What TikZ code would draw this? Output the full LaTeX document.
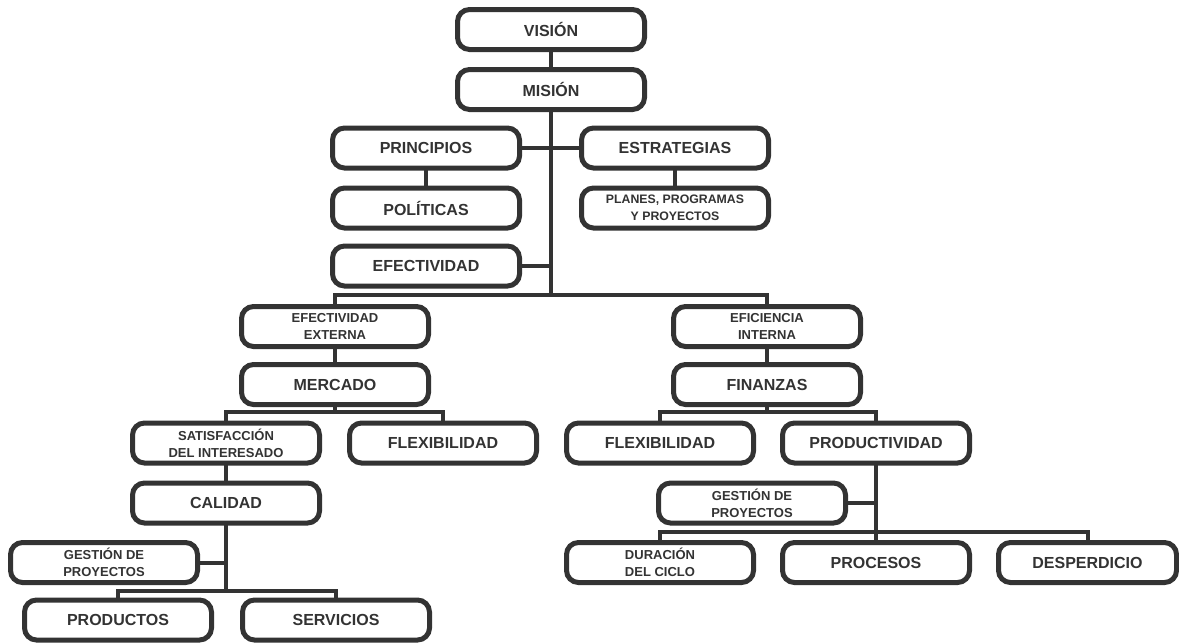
\documentclass[tikz,border=0pt]{standalone}
\usepackage{fontspec}
\setmainfont{Liberation Sans}
\usepackage{tikz}
\definecolor{orggray}{RGB}{51,51,51}
\tikzset{org box/.style={
        draw=orggray, line width=5pt, rounded corners=12pt, fill=white,
        minimum width=187pt, minimum height=40pt, align=center,
        text=orggray, font=\bfseries\fontsize{16}{19}\selectfont,
        outer sep=0pt, inner sep=2pt, % borders meet the lines exactly
    },
    org small/.style={
        org box, font=\bfseries\fontsize{13}{17}\selectfont,
    },
    org line/.style={
        draw=orggray, line width=4pt,
    },
}
\begin{document}
\begin{tikzpicture}[x=1pt, y=-1pt]
    \useasboundingbox (0,0) rectangle (1179,643);

    %% top of the chart
        \node [org box] (vision) at (551,29.5) {VISIÓN};
        \node [org box] (mision) at (551,89.5) {MISIÓN};
        \node [org box] (principios) at (426,148) {PRINCIPIOS};
        \node [org box] (estrategias) at (675,148) {ESTRATEGIAS};
        \node [org box] (politicas) at (426,208) {POLÍTICAS};
        \node [org small, font=\bfseries\fontsize{12.3}{16.5}\selectfont] (planes) at (675,208) {PLANES, PROGRAMAS\\Y PROYECTOS};
        \node [org box] (efectividad) at (426,266) {EFECTIVIDAD};

    %% left branch
        \node [org small] (externa) at (335,326.5) {EFECTIVIDAD\\EXTERNA};
        \node [org box] (mercado) at (335,384.5) {MERCADO};
        \node [org small] (satisf) at (226,443) {SATISFACCIÓN\\DEL INTERESADO};
        \node [org box] (flexext) at (443,443) {FLEXIBILIDAD};
        \node [org box] (calidad) at (226,503) {CALIDAD};
        \node [org small] (gestext) at (104,562.5) {GESTIÓN DE\\PROYECTOS};
        \node [org box] (productos) at (118,620) {PRODUCTOS};
        \node [org box] (servicios) at (336,620) {SERVICIOS};

    %% right branch
        \node [org small] (eficiencia) at (767,326.5) {EFICIENCIA\\INTERNA};
        \node [org box] (finanzas) at (767,384.5) {FINANZAS};
        \node [org box] (flexint) at (660,443) {FLEXIBILIDAD};
        \node [org box] (productividad) at (876,443) {PRODUCTIVIDAD};
        \node [org small] (gestint) at (752,503) {GESTIÓN DE\\PROYECTOS};
        \node [org small] (duracion) at (660,562.5) {DURACIÓN\\DEL CICLO};
        \node [org box] (procesos) at (876,562.5) {PROCESOS};
        \node [org box, minimum width=178pt] (desperdicio) at (1087.5,562.5) {DESPERDICIO};

    %% the buses where branches split
        \coordinate (top bus) at (551,295);
        \coordinate (mercado bus) at (335,412);
        \coordinate (calidad bus) at (226,591);
        \coordinate (finanzas bus) at (767,412);
        \coordinate (prod bus) at (876,532);

    %% connectors
        \draw [org line] (vision) -- (mision);
        \draw [org line] (mision) -- (top bus);
        \draw [org line] (principios) -- (estrategias);
        \draw [org line] (principios) -- (politicas);
        \draw [org line] (estrategias) -- (planes);
        \draw [org line] (efectividad) -- (efectividad -| top bus);
        \draw [org line] (externa) |- (top bus) -| (eficiencia);

        \draw [org line] (externa) -- (mercado);
        \draw [org line] (mercado) -- (mercado bus);
        \draw [org line] (satisf) |- (mercado bus) -| (flexext);
        \draw [org line] (satisf) -- (calidad);
        \draw [org line] (calidad) -- (calidad bus);
        \draw [org line] (gestext) -- (gestext -| calidad bus);
        \draw [org line] (productos) |- (calidad bus) -| (servicios);

        \draw [org line] (eficiencia) -- (finanzas);
        \draw [org line] (finanzas) -- (finanzas bus);
        \draw [org line] (flexint) |- (finanzas bus) -| (productividad);
        \draw [org line] (productividad) -- (prod bus);
        \draw [org line] (gestint) -- (gestint -| prod bus);
        \draw [org line] (duracion) |- (prod bus) -| (desperdicio);
        \draw [org line] (prod bus) -- (procesos);

\end{tikzpicture}
\end{document}
